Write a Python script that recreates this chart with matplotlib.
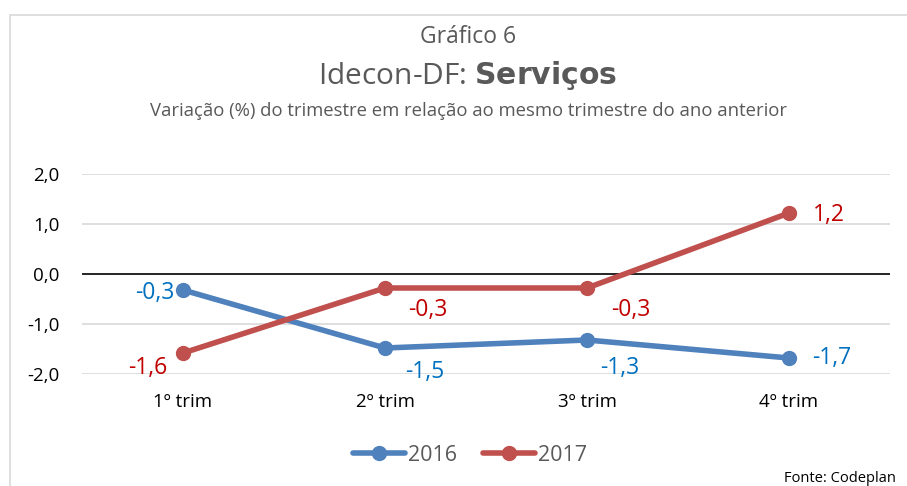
import matplotlib.pyplot as plt
from matplotlib.patches import Rectangle

categories = ["1º trim", "2º trim", "3º trim", "4º trim"]
values_2016 = [-0.32, -1.48, -1.32, -1.68]
values_2017 = [-1.58, -0.28, -0.28, 1.22]
labels_2016 = ["-0,3", "-1,5", "-1,3", "-1,7"]
labels_2017 = ["-1,6", "-0,3", "-0,3", "1,2"]
yticks = [-2.0, -1.0, 0.0, 1.0, 2.0]

plt.rcParams['font.family'] = ['Open Sans', 'DejaVu Sans']
gray = "#595959"
blue, red = "#4F81BD", "#C0504D"
blue_txt, red_txt = "#0070C0", "#C00000"

fig = plt.figure(figsize=(9.07, 4.86), dpi=100)
fig.patches.append(Rectangle((10 / 907, -0.05), 1.0, 1 - 15 / 486 + 0.05,
                             transform=fig.transFigure, fill=False,
                             edgecolor="#D9D9D9", linewidth=1.2))

ax = fig.add_axes([82 / 907, 1 - 374 / 486, 808 / 907, 200 / 486])
x = list(range(len(categories)))

for y in yticks:
    if y == 0:
        ax.axhline(y, color="black", linewidth=1.2, zorder=1)
    else:
        ax.axhline(y, color="#D9D9D9", linewidth=1.2, zorder=0)

l1, = ax.plot(x, values_2016, color=blue, linewidth=4, marker="o",
              markersize=10, solid_capstyle="round", zorder=3, label="2016")
l2, = ax.plot(x, values_2017, color=red, linewidth=4, marker="o",
              markersize=10, solid_capstyle="round", zorder=3, label="2017")

# data labels (offsets in pixels)
off_2016 = [(-28, -3), (40, -24), (33, -28), (43, 0)]
off_2017 = [(-35, -15), (43, -22), (44, -22), (40, -2)]
for xi, v, t, o in zip(x, values_2016, labels_2016, off_2016):
    ax.annotate(t, (xi, v), xytext=o, textcoords="offset pixels",
                ha="center", va="center", color=blue_txt, fontsize=16.5)
for xi, v, t, o in zip(x, values_2017, labels_2017, off_2017):
    ax.annotate(t, (xi, v), xytext=o, textcoords="offset pixels",
                ha="center", va="center", color=red_txt, fontsize=16.5)

ax.set_xlim(-0.5, 3.5)
ax.set_ylim(-2.0, 2.0)
ax.set_yticks(yticks)
ax.set_yticklabels([f"{v:.1f}".replace(".", ",") for v in yticks])
ax.set_xticks(x)
ax.set_xticklabels(categories)
ax.tick_params(length=0, labelsize=13.5, colors="black")
ax.tick_params(axis="x", pad=14)
ax.tick_params(axis="y", pad=16)
for s in ax.spines.values():
    s.set_visible(False)

fig.text(468 / 907, 1 - 37 / 486, "Gráfico 6", ha="center", va="center",
         fontsize=16.5, color=gray)
fig.text(468 / 907, 1 - 75 / 486, "Idecon-DF: $\\bf{Serviços}$", ha="center",
         va="center", fontsize=21.5, color=gray)
fig.text(468 / 907, 1 - 111 / 486,
         "Variação (%) do trimestre em relação ao mesmo trimestre do ano anterior",
         ha="center", va="center", fontsize=13.3, color=gray)

fig.legend(handles=[l1, l2], loc="center", bbox_to_anchor=(470 / 907, 1 - 455 / 486),
           ncol=2, frameon=False, fontsize=15.5, labelcolor=gray,
           handlelength=2.4, columnspacing=1.2, handletextpad=0.15)

fig.text(896 / 907, 1 - 478 / 486, "Fonte: Codeplan", ha="right", va="center",
         fontsize=10.5, color="black")

fig.savefig("out.png", dpi=100)
